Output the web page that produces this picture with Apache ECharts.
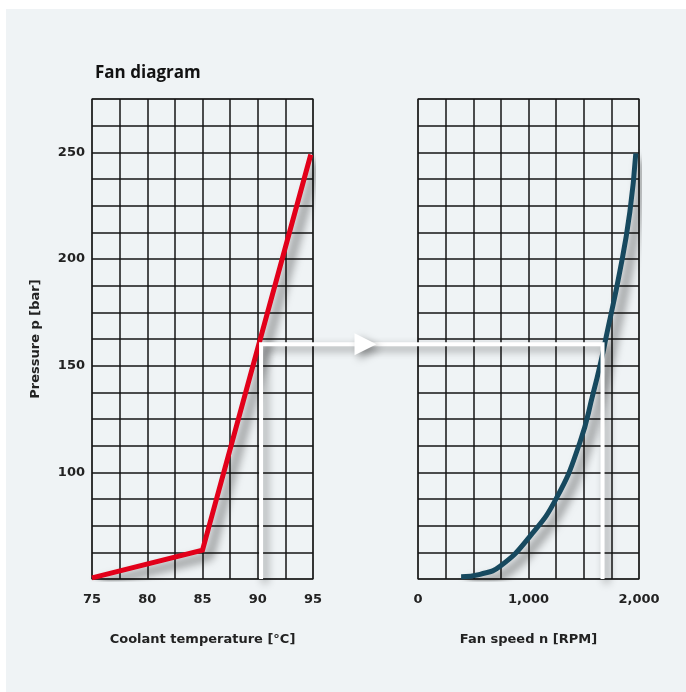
<!DOCTYPE html>
<html>
<head>
<meta charset="utf-8">
<script src="https://cdn.jsdelivr.net/npm/echarts@6/dist/echarts.min.js"></script>
<style>
html,body{margin:0;padding:0;background:#ffffff;}
#panel{position:absolute;left:6px;top:9px;width:680px;height:683px;background:#eff3f5;}
#chart{position:absolute;left:0;top:0;width:686px;height:692px;}
</style>
</head>
<body>
<div id="panel"></div>
<div id="chart"></div>
<script>
// Coolant temperature curve
const tempX = [75, 85, 94.8];
const tempP = [50.5, 63.5, 249];
// Fan speed curve
const fanN = [390, 562, 743, 1013, 1254, 1465, 1585, 1660, 1705, 1826, 1917, 1971];
const fanP = [51, 52.2, 56, 70, 88, 114, 137, 153, 164, 194, 222, 249.5];
// Operating point (white arrow path)
const opTemp = 90.3;
const opPressure = 160;
const opSpeed = 1670;
// Tick labels
const pressureTicks = [100, 150, 200, 250];
const tempTicks = [75, 80, 85, 90, 95];
const speedTicks = [0, 1000, 2000];

const FONT = '"DejaVu Sans", "Liberation Sans", sans-serif';
const chart = echarts.init(document.getElementById('chart'), null, {renderer: 'canvas'});

const splitStyle = {show: true, lineStyle: {color: '#151515', width: 1.5}};
const labelStyle = {color: '#222', fontSize: 13, fontWeight: 'bold', fontFamily: FONT};
const nameStyle = {color: '#222', fontSize: 13, fontWeight: 'bold', fontFamily: FONT};

function pairs(xs, ys) { return xs.map((x, i) => [x, ys[i]]); }

chart.setOption({
  backgroundColor: 'transparent',
  animation: false,
  title: {
    text: 'Fan diagram', left: 90, top: 60,
    textStyle: {fontSize: 17, fontWeight: 'bold', color: '#111', fontFamily: '"Open Sans", "Noto Sans", sans-serif'}
  },
  grid: [
    {left: 92, top: 99, width: 221, height: 480, show: true, borderColor: '#777', borderWidth: 1.5, backgroundColor: 'transparent'},
    {left: 418, top: 99, width: 221, height: 480, show: true, borderColor: '#777', borderWidth: 1.5, backgroundColor: 'transparent'}
  ],
  xAxis: [
    {
      type: 'value', gridIndex: 0, min: 75, max: 95, interval: 2.5,
      axisLine: {show: false}, axisTick: {show: false}, splitLine: splitStyle,
      axisLabel: Object.assign({margin: 14, formatter: v => tempTicks.includes(v) ? String(v) : ''}, labelStyle),
      name: 'Coolant temperature [°C]', nameLocation: 'middle', nameGap: 54, nameTextStyle: nameStyle
    },
    {
      type: 'value', gridIndex: 1, min: 0, max: 2000, interval: 250,
      axisLine: {show: false}, axisTick: {show: false}, splitLine: splitStyle,
      axisLabel: Object.assign({margin: 14, formatter: v => speedTicks.includes(v) ? v.toLocaleString('en-US') : ''}, labelStyle),
      name: 'Fan speed n [RPM]', nameLocation: 'middle', nameGap: 54, nameTextStyle: nameStyle
    }
  ],
  yAxis: [
    {
      type: 'value', gridIndex: 0, min: 50, max: 275, interval: 12.5,
      axisLine: {show: false}, axisTick: {show: false}, splitLine: splitStyle,
      axisLabel: Object.assign({margin: 7, formatter: v => pressureTicks.includes(v) ? String(v) : ''}, labelStyle),
      name: 'Pressure p [bar]', nameLocation: 'middle', nameGap: 50, nameTextStyle: nameStyle
    },
    {
      type: 'value', gridIndex: 1, min: 50, max: 275, interval: 12.5,
      axisLine: {show: false}, axisTick: {show: false}, splitLine: splitStyle,
      axisLabel: {show: false}
    }
  ],
  series: [
    {
      type: 'line', xAxisIndex: 0, yAxisIndex: 0, data: pairs(tempX, tempP),
      symbol: 'none', z: 5,
      lineStyle: {color: '#e2001a', width: 5, cap: 'butt', join: 'miter',
        shadowColor: 'rgba(0,0,0,0.6)', shadowBlur: 10, shadowOffsetX: 7, shadowOffsetY: 6}
    },
    {
      type: 'line', xAxisIndex: 1, yAxisIndex: 1, data: pairs(fanN, fanP),
      symbol: 'none', smooth: true, z: 5,
      lineStyle: {color: '#17495f', width: 5, cap: 'butt',
        shadowColor: 'rgba(0,0,0,0.6)', shadowBlur: 10, shadowOffsetX: 7, shadowOffsetY: 6}
    }
  ]
});

// White operating-point path, positioned through the axes' scales
const pA = chart.convertToPixel({gridIndex: 0}, [opTemp, 50]);
const pB = chart.convertToPixel({gridIndex: 0}, [opTemp, opPressure]);
const pC = chart.convertToPixel({gridIndex: 1}, [opSpeed, opPressure]);
const pD = chart.convertToPixel({gridIndex: 1}, [opSpeed, 50]);
const leftEdge = chart.convertToPixel({gridIndex: 0}, [95, opPressure]);
const rightEdge = chart.convertToPixel({gridIndex: 1}, [0, opPressure]);
const mid = (leftEdge[0] + rightEdge[0]) / 2;
const ay = pB[1];

chart.setOption({
  graphic: [
    {
      type: 'polyline', z: 10,
      shape: {points: [pA, pB, pC, pD]},
      style: {stroke: '#ffffff', lineWidth: 4, fill: null, lineJoin: 'miter',
        shadowColor: 'rgba(0,0,0,0.45)', shadowBlur: 8, shadowOffsetX: 4, shadowOffsetY: 4}
    },
    {
      type: 'polygon', z: 11,
      shape: {points: [[mid - 11, ay - 11], [mid + 11, ay], [mid - 11, ay + 11]]},
      style: {fill: '#ffffff',
        shadowColor: 'rgba(0,0,0,0.35)', shadowBlur: 8, shadowOffsetX: 4, shadowOffsetY: 4}
    }
  ]
});
</script>
</body>
</html>
